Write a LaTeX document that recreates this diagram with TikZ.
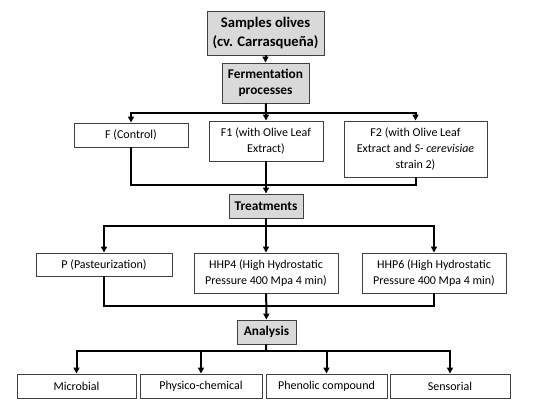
\documentclass[tikz,border=0pt]{standalone}
\usepackage{fontspec}
\setmainfont{Carlito}
\usetikzlibrary{arrows.meta}

\begin{document}
\begin{tikzpicture}[x=0.75pt, y=-0.75pt,
  >={Triangle[length=4.5pt, width=4.5pt]},
  box/.style={draw=black!75, line width=0.7pt, align=center, inner sep=1pt,
              minimum height=18pt, font=\fontsize{9}{12}\selectfont},
  gbox/.style={box, fill=cgray, font=\fontsize{10}{11.8}\selectfont\bfseries},
  line/.style={line width=1.5pt},
  arr/.style={->, line width=1.5pt},
]
\definecolor{cgray}{HTML}{D9D9D9}
\useasboundingbox (0,0) rectangle (550,408);
% top
\node[gbox, minimum width=87.75pt, minimum height=33pt,
      font=\fontsize{11}{14.5}\selectfont\bfseries] (a) at (265.5,33) {Samples olives\\(cv. Carrasqueña)};
\node[gbox, minimum width=65.25pt, minimum height=30pt] (b) at (265.5,83) {Fermentation\\processes};
\node[box, minimum width=85.5pt] (c1) at (131,135) {F (Control)};
\node[box, minimum width=85.5pt, minimum height=30pt] (c2) at (266,141) {F1 (with Olive Leaf\\Extract)};
\node[box, minimum width=107.25pt, minimum height=42pt] (c3) at (415.5,149) {F2 (with Olive Leaf\\Extract and \textit{S- cerevisiae}\\strain 2)};
% middle
\node[gbox, minimum width=55.5pt] (d) at (266,206) {Treatments};
\node[box, minimum width=102pt, minimum height=17.25pt] (e1) at (104,264.5) {P (Pasteurization)};
\node[box, minimum width=108pt, minimum height=30pt] (e2) at (266,273) {HHP4 (High Hydrostatic\\Pressure 400 Mpa 4 min)};
\node[box, minimum width=108pt, minimum height=30pt] (e3) at (434,273) {HHP6 (High Hydrostatic\\Pressure 400 Mpa 4 min)};
% bottom
\node[gbox, minimum width=44.25pt] (f) at (266.5,332) {Analysis};
\node[box, minimum width=89.25pt] (g1) at (76.5,386) {Microbial};
\node[box, minimum width=91.5pt] (g2) at (201,386) {Physico-chemical};
\node[box, minimum width=90.75pt] (g3) at (326.5,386) {Phenolic compound};
\node[box, minimum width=90pt] (g4) at (450,386) {Sensorial};
\coordinate (j1) at (266,113);
\coordinate (j2) at (266,185);
\coordinate (j3) at (266,226);
\coordinate (j4) at (266,306);
\coordinate (j5) at (266,351);
\draw[arr] (a)--(b);
\draw[line] (b)--(j1);
\draw[arr] (j1)-|(c1);
\draw[arr] (j1)--(c2);
\draw[arr] (j1)-|(c3);
\draw[line] (c1)|-(j2);
\draw[line] (c3)|-(j2);
\draw[arr] (c2)--(d);
\draw[line] (d)--(j3);
\draw[arr] (j3)-|(e1);
\draw[arr] (j3)--(e2);
\draw[arr] (j3)-|(e3);
\draw[line] (e1)|-(j4);
\draw[line] (e3)|-(j4);
\draw[arr] (e2)--(f);
\draw[line] (f)--(j5);
\draw[arr] (j5)-|(g1);
\draw[arr] (j5)-|(g2);
\draw[arr] (j5)-|(g3);
\draw[arr] (j5)-|(g4);
\end{tikzpicture}
\end{document}
